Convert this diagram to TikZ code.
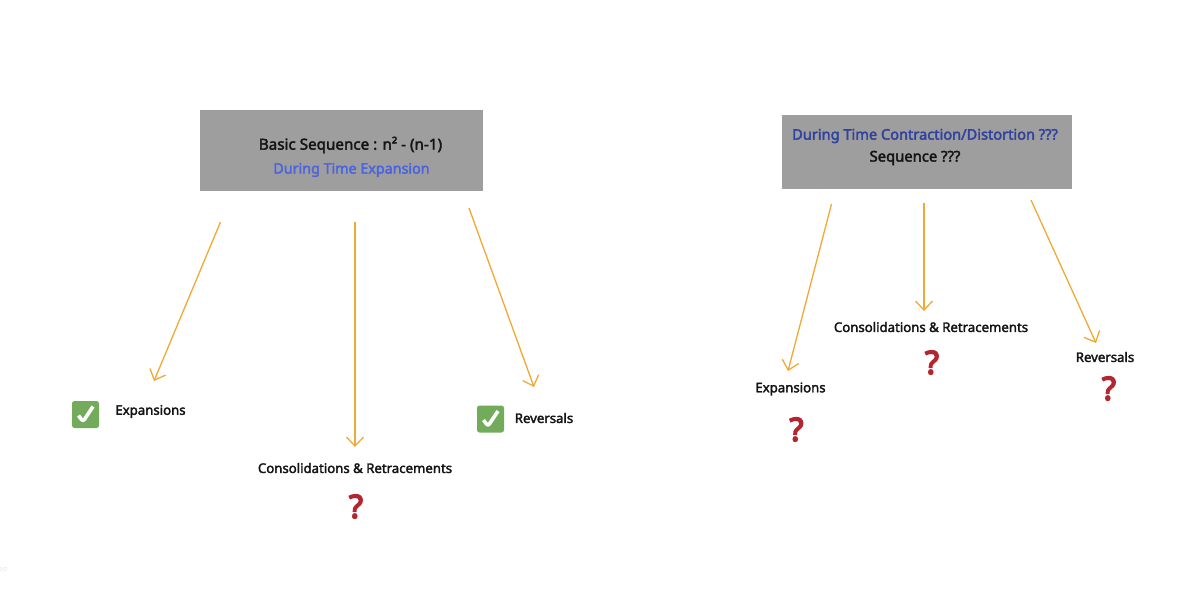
\documentclass[tikz,border=0pt]{standalone}
\usepackage{fontspec}
\setmainfont{Noto Sans}[AutoFakeBold=2.4]
\newfontfamily\askfont{Noto Sans}[FakeBold=5]
\usepackage{xcolor}
\usetikzlibrary{arrows.meta,positioning,calc}
\definecolor{panel}{HTML}{9E9E9E}
\definecolor{amber}{HTML}{F0A935}
\definecolor{ink}{HTML}{141414}
\definecolor{bluelt}{HTML}{4A63E0}
\definecolor{bluedk}{HTML}{2F429F}
\definecolor{leaf}{HTML}{72AC5A}
\definecolor{crimson}{HTML}{B3262F}
\definecolor{ghost}{HTML}{E4E4E4}

\begin{document}
\begin{tikzpicture}[
  x=1pt,y=-1pt,
  >={Straight Barb[length=9pt,width=17pt,line width=1.3pt]},
  seqbox/.style={fill=panel,anchor=north west,inner sep=0pt},
  headline/.style={font=\fontsize{15.2}{18}\selectfont\bfseries,color=ink,inner sep=0pt},
  leafnote/.style={font=\fontsize{13.2}{16}\selectfont\bfseries,color=ink,inner sep=0pt},
  flow/.style={->,color=amber,line width=1.3pt},
  unknown/.style={font=\fontsize{32}{32}\selectfont\askfont,color=crimson,inner sep=0pt},
  okbox/.style={fill=leaf,rounded corners=2.5pt,minimum size=27pt,inner sep=0pt,
                path picture={\draw[white,line width=3.6pt]
                  ($(path picture bounding box.center)+(-7,1)$) --
                  ($(path picture bounding box.center)+(-2.5,7)$) --
                  ($(path picture bounding box.center)+(7.5,-8)$);}}
]
\useasboundingbox (0,0) rectangle (1200,595);

% left group
\node[seqbox,minimum width=283pt,minimum height=81pt] (basicbox) at (200,110) {};
\node[headline] (basictitle) at (350.5,145) {Basic Sequence : n² - (n-1)};
\node[headline,color=bluelt,font=\fontsize{14.3}{18}\selectfont\bfseries] (basicsub) at (351.5,170) {During Time Expansion};

\node[okbox] (okexp) at (85.5,414.5) {};
\node[leafnote] (expleft) at (150.5,411.5) {Expansions};
\node[leafnote] (conleft) at (355,468) {Consolidations \& Retracements};
\node[unknown] (askcon) at (356,506.5) {?};
\node[okbox] (okrev) at (490.5,419) {};
\node[leafnote] (revleft) at (544,418) {Reversals};

\coordinate (a1) at (220.5,222);
\coordinate (a2) at (355,222);
\coordinate (a3) at (469,208);
\coordinate (t1) at (154,381);
\coordinate (t2) at (355,447);
\coordinate (t3) at (534,387);
\draw[flow] (a1) -- (t1);
\draw[flow] (a2) -- (t2);
\draw[flow] (a3) -- (t3);

% right group
\node[seqbox,minimum width=290pt,minimum height=74pt] (timebox) at (782,115) {};
\node[headline,color=bluedk,font=\fontsize{14.6}{18}\selectfont\bfseries] (timetitle) at (925,136) {During Time Contraction/Distortion ???};
\node[headline,font=\fontsize{14.8}{18}\selectfont\bfseries] (timesub) at (915,158) {Sequence ???};

\node[leafnote] (expright) at (790.5,389) {Expansions};
\node[unknown] (askexp) at (796.5,429.5) {?};
\node[leafnote] (conright) at (931,327) {Consolidations \& Retracements};
\node[unknown] (askmid) at (932,362.5) {?};
\node[leafnote] (revright) at (1105,357) {Reversals};
\node[unknown] (askrev) at (1109,388.5) {?};

\coordinate (b1) at (831.5,204);
\coordinate (b2) at (924,203);
\coordinate (b3) at (1031,200);
\coordinate (u1) at (788,371);
\coordinate (u2) at (924,311);
\coordinate (u3) at (1096,343);
\draw[flow] (b1) -- (u1);
\draw[flow] (b2) -- (u2);
\draw[flow] (b3) -- (u3);

\node[font=\fontsize{7}{8}\selectfont,color=ghost,inner sep=0pt] (faint) at (3,569) {ed};
\end{tikzpicture}
\end{document}
